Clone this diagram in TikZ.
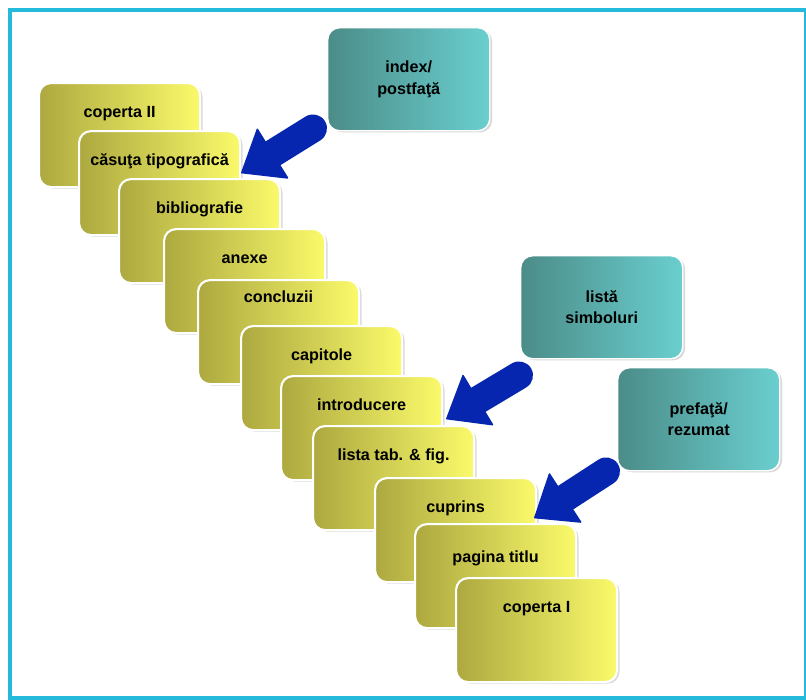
\documentclass[tikz,border=0pt]{standalone}
\usepackage{fontspec}
\setmainfont{Liberation Sans}
\usepackage{xcolor}
\usepackage{tikz}
\usetikzlibrary{arrows.meta,calc,shadows}

\definecolor{cardleft}{HTML}{ADA940}
\definecolor{cardright}{HTML}{FAFA6A}
\definecolor{noteleft}{HTML}{4B8C88}
\definecolor{noteright}{HTML}{6ACFCF}
\definecolor{arrowblue}{HTML}{0626B0}
\definecolor{framecyan}{HTML}{25B9DC}

\begin{document}
\begin{tikzpicture}[
    x=0.025cm, y=-0.025cm,
    card/.style={rectangle, draw=white, line width=1.5pt, rounded corners=0.3cm, anchor=north west,
        minimum width=4.025cm, minimum height=2.6cm, inner xsep=0.1cm, inner ysep=0.3cm,
        text height=0.55cm, text depth=1.45cm, left color=cardleft, right color=cardright,
        drop shadow={shadow xshift=0.06cm, shadow yshift=-0.04cm, opacity=0.3},
        font=\fontsize{11.5}{14}\selectfont\bfseries},
    note/.style={rectangle, draw=white, line width=1pt, rounded corners=0.3cm, anchor=north west,
        minimum width=4.05cm, minimum height=2.575cm, align=center,
        left color=noteleft, right color=noteright,
        drop shadow={shadow xshift=0.06cm, shadow yshift=-0.04cm, opacity=0.3},
        font=\fontsize{11.5}{15.5}\selectfont\bfseries},
    bigarrow/.style={-{Triangle[length=0.95cm, width=1.5cm, line width=1pt, round]}, line width=0.7cm,
        line cap=round, draw=arrowblue, fill=arrowblue},
    frame/.style={draw=framecyan, line width=0.1cm}
]
    \useasboundingbox (0,0) rectangle (806,699);
    \draw[frame] (10,10) rectangle (806,698);

    % stack of pages, back to front
    \node[card] (copII) at (38,82) {coperta II};
    \node[card] (casuta) at (78,130) {căsuţa tipografică};
    \node[card] (biblio) at (118,178) {bibliografie};
    \node[card] (anexe) at (163,228) {anexe};
    \node[card, text height=0.25cm, text depth=1.75cm] (concl) at (197,279) {concluzii};
    \node[card] (capit) at (240,325) {capitole};
    \node[card] (intro) at (280,375) {introducere};
    \node[card] (lista) at (312,425) {lista tab. \& fig.};
    \node[card] (cuprins) at (374,477) {cuprins};
    \node[card, text height=0.65cm, text depth=1.35cm] (titlu) at (414,523) {pagina titlu};
    \node[card] (copI) at (455,577) {coperta I};

    % optional parts
    \node[note] (idx) at (327,27) {index/\\postfaţă};
    \node[note] (simb) at (520,255) {listă\\simboluri};
    \node[note] (pref) at (617,367) {prefaţă/\\rezumat};

    \draw[bigarrow] ($(idx.south west)+(-14,-3)$) -- ($(casuta.east)+(0,-10)$);
    \draw[bigarrow] ($(simb.south west)+(-1,16)$) -- ($(intro.east)+(3,-9)$);
    \draw[bigarrow] ($(pref.south west)+(-11,0)$) -- ($(cuprins.east)+(-3,-12)$);
\end{tikzpicture}
\end{document}
